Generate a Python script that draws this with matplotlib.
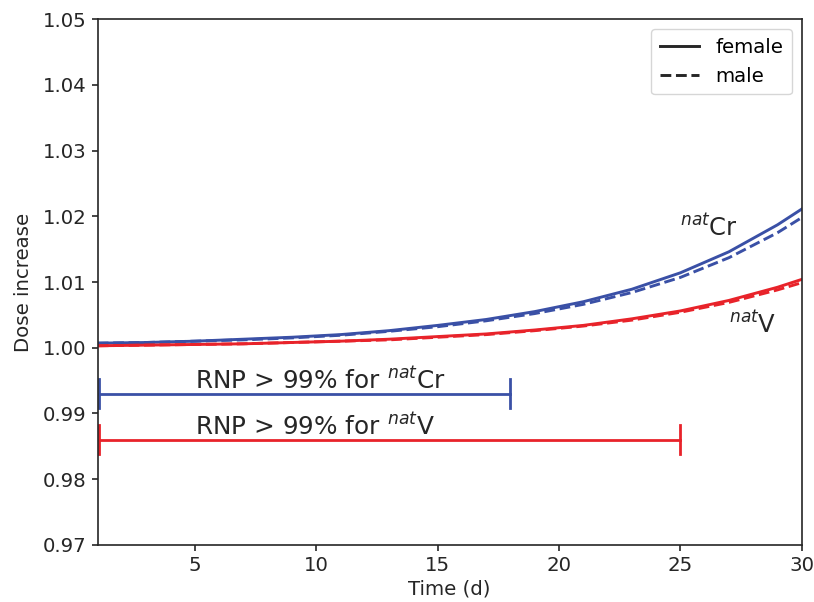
import matplotlib
matplotlib.use("Agg")
import matplotlib.pyplot as plt

time_d = [1, 3, 5, 7, 9, 11, 13, 15, 17, 19, 21, 23, 25, 27, 29, 30]
cr_female = [1.0007, 1.0008, 1.0010, 1.0013, 1.0016, 1.0020, 1.0026, 1.0034, 1.0043, 1.0055, 1.0070, 1.0089, 1.0114, 1.0146, 1.0187, 1.0211]
cr_male = [1.0007, 1.0008, 1.0010, 1.0012, 1.0015, 1.0019, 1.0025, 1.0032, 1.0041, 1.0052, 1.0066, 1.0084, 1.0107, 1.0137, 1.0175, 1.0198]
v_female = [1.0003, 1.0004, 1.0005, 1.0006, 1.0008, 1.0010, 1.0013, 1.0017, 1.0021, 1.0027, 1.0034, 1.0044, 1.0056, 1.0072, 1.0092, 1.0104]
v_male = [1.0003, 1.0004, 1.0005, 1.0006, 1.0008, 1.0010, 1.0012, 1.0016, 1.0020, 1.0026, 1.0033, 1.0042, 1.0054, 1.0069, 1.0088, 1.0099]

rnp_cr = (1.05, 18.0, 0.993)
rnp_v = (1.05, 25.0, 0.986)

blue = "#3a50a6"
red = "#e8232a"
dark = "#262626"

plt.rcParams['font.family'] = ['DejaVu Sans']
fig = plt.figure(figsize=(8.14, 6.02), dpi=100)
ax = fig.add_axes([0.12, 0.0947, 0.865, 0.8737])

lw = 2.1
ax.plot(time_d, cr_female, color=blue, lw=lw, ls='-')
ax.plot(time_d, cr_male, color=blue, lw=lw, ls='--')
ax.plot(time_d, v_female, color=red, lw=lw, ls='-')
ax.plot(time_d, v_male, color=red, lw=lw, ls='--')

for (x0, x1, y), c in [(rnp_cr, blue), (rnp_v, red)]:
    ax.plot([x0, x1], [y, y], color=c, lw=2.0)
    for xx in (x0, x1):
        ax.plot([xx, xx], [y - 0.0022, y + 0.0022], color=c, lw=2.0)

ax.text(5.0, 0.9937, r'RNP > 99% for $^{nat}$Cr', fontsize=17.8, color=dark)
ax.text(5.0, 0.9867, r'RNP > 99% for $^{nat}$V', fontsize=17.8, color=dark)
ax.text(25.0, 1.0170, r'$^{nat}$Cr', fontsize=17.5, color=dark)
ax.text(27.0, 1.0022, r'$^{nat}$V', fontsize=17.5, color=dark)

h1, = ax.plot([], [], color=dark, lw=lw, ls='-', label='female')
h2, = ax.plot([], [], color=dark, lw=lw, ls='--', label='male')
leg = ax.legend(handles=[h1, h2], loc='upper right', fontsize=14.2, frameon=True,
                fancybox=True, edgecolor='#cccccc', handlelength=2.0, borderpad=0.45)

ax.set_xlim(1, 30)
ax.set_ylim(0.97, 1.05)
ax.set_xticks([5, 10, 15, 20, 25, 30])
yt = [0.97, 0.98, 0.99, 1.00, 1.01, 1.02, 1.03, 1.04, 1.05]
ax.set_yticks(yt)
ax.set_yticklabels([f"{v:.2f}" for v in yt])
ax.tick_params(labelsize=14.2, colors=dark, length=4.5, width=1.2)
for s in ax.spines.values():
    s.set_color(dark)
    s.set_linewidth(1.2)
ax.set_xlabel('Time (d)', fontsize=14.2, color=dark, labelpad=3)
ax.set_ylabel('Dose increase', fontsize=14.2, color=dark, labelpad=7)

fig.savefig('out.png', dpi=100)
